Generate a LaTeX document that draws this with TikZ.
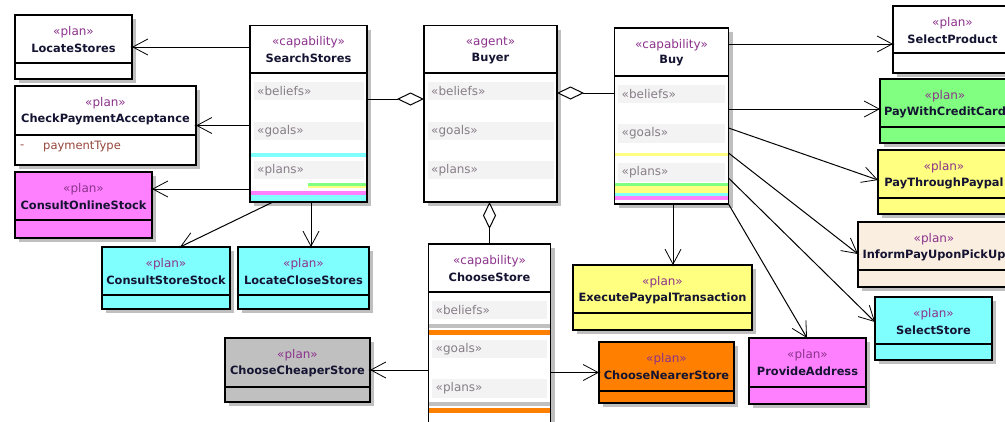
\documentclass[tikz,border=0pt]{standalone}
\usepackage{fontspec}
\setmainfont{DejaVu Sans}
\usetikzlibrary{arrows.meta,calc,shadows,decorations.markings}

\definecolor{umlcyan}{RGB}{128,255,255}
\definecolor{umlgreen}{RGB}{128,255,128}
\definecolor{umlyellow}{RGB}{255,255,128}
\definecolor{umlpink}{RGB}{255,128,255}
\definecolor{umlorange}{RGB}{255,128,0}
\definecolor{umlgray}{RGB}{192,192,192}
\definecolor{umlbeige}{RGB}{250,238,224}
\definecolor{stereoc}{RGB}{140,50,140}
\definecolor{titlec}{RGB}{20,20,50}
\definecolor{lblc}{RGB}{135,125,135}
\definecolor{lblbg}{RGB}{243,243,243}
\definecolor{attrc}{RGB}{150,70,60}

\tikzset{
  umlbox/.style={rectangle, draw=black, line width=1.2pt, inner sep=0pt, outer sep=0pt,
    anchor=north west,
    drop shadow={shadow xshift=4pt, shadow yshift=-4pt, fill=black!25, opacity=1}},
  boxline/.style={draw=black, line width=1.2pt},
  stereo/.style={inner sep=0pt, text=stereoc, font=\fontsize{12}{14}\selectfont},
  umltitle/.style={inner sep=0pt, text=titlec, font=\bfseries\fontsize{11.4}{13}\selectfont},
  lbl/.style={inner sep=0pt, anchor=west, text=lblc, font=\fontsize{12}{14}\selectfont},
  attr/.style={inner sep=0pt, anchor=west, text=attrc, font=\fontsize{11.5}{13}\selectfont},
  assoc/.style={line width=1pt, -{Straight Barb[length=15pt,width=16pt,line width=0.8pt]},
    postaction={decorate},
    decoration={markings, mark=at position 1 with {\fill (0,0) circle (1.4pt);}}},
  aggr/.style={line width=1pt, -{Diamond[length=27pt,width=13pt,fill=white,line width=1pt]}}
}

% plan box: name, x, y, width, header height, total height, fill, title
\newcommand\PlanBox[8]{%
  \node[umlbox, fill=#7, minimum width=#4pt, minimum height=#6pt] (#1) at (#2,#3) {};
  \draw[boxline] ($(#1.north west)+(0,#5)$) -- ($(#1.north east)+(0,#5)$);
  \node[stereo] at ($(#1.north)+(0,17)$) {«plan»};
  \node[umltitle] at ($(#1.north)+(0,33)$) {#8};
}
% capability / agent box: name, x, y, width, total height, header height, stereotype, title
\newcommand\CapBox[8]{%
  \node[umlbox, fill=white, minimum width=#4pt, minimum height=#5pt] (#1) at (#2,#3) {};
  \draw[boxline] ($(#1.north west)+(0,#6)$) -- ($(#1.north east)+(0,#6)$);
  \node[stereo] at ($(#1.north)+(0,17)$) {#7};
  \node[umltitle] at ($(#1.north)+(0,33)$) {#8};
}
% compartment label: box, offset from top, height, text
\newcommand\CapLabel[4]{%
  \fill[lblbg] ($(#1.north west)+(3.5,#2)$) rectangle ($(#1.north east)+(-3.5,{#2+#3})$);
  \node[lbl] at ($(#1.north west)+(7,{#2+#3/2})$) {#4};
}
% coloured stripe: box, offset from left, offset from top, height, colour
\newcommand\CapStripe[5]{%
  \fill[#5] ($(#1.north west)+(#2,#3)$) rectangle ($(#1.north east)+(0,{#3+#4})$);
}
\newcommand\CapFrame[1]{%
  \draw[boxline] (#1.north west) rectangle (#1.south east);
}

\begin{document}
\begin{tikzpicture}[x=1pt,y=-1pt]
\useasboundingbox (0,0) rectangle (1005,421);
\fill[white] (0,0) rectangle (1005,421);

% plans
\PlanBox{ls}{15}{15}{117}{48}{64}{white}{LocateStores}
\PlanBox{cpa}{15}{86}{181}{49}{79}{white}{CheckPaymentAcceptance}
\node[attr] at ($(cpa.north west)+(5,61)$) {-};
\node[attr] at ($(cpa.north west)+(28,61)$) {paymentType};
\PlanBox{cos}{15}{172}{137}{48}{66}{umlpink}{ConsultOnlineStock}
\PlanBox{css}{102}{247}{128}{48}{62}{umlcyan}{ConsultStoreStock}
\PlanBox{lcs}{238}{247}{131}{48}{62}{umlcyan}{LocateCloseStores}
\PlanBox{ccs}{225}{338}{145}{49}{64}{umlgray}{ChooseCheaperStore}
\PlanBox{cns}{599}{342}{135}{49}{61}{umlorange}{ChooseNearerStore}
\PlanBox{ept}{573}{265}{179}{48}{65}{umlyellow}{ExecutePaypalTransaction}
\PlanBox{pa}{749}{338}{117}{49}{66}{umlpink}{ProvideAddress}
\PlanBox{sst}{875}{297}{117}{47}{63}{umlcyan}{SelectStore}
\PlanBox{ipu}{858}{222}{152}{48}{65}{umlbeige}{InformPayUponPickUp}
\PlanBox{ptp}{878}{150}{132}{48}{64}{umlyellow}{PayThroughPaypal}
\PlanBox{pwcc}{880}{79}{130}{48}{64}{umlgreen}{PayWithCreditCard}
\PlanBox{sp}{893}{6}{119}{47}{67}{white}{SelectProduct}

% capability Search Stores
\CapBox{ss}{250}{25.5}{117}{176.5}{47.5}{«capability»}{SearchStores}
\CapLabel{ss}{56.5}{18}{«beliefs»}
\CapLabel{ss}{96.5}{17.5}{«goals»}
\CapStripe{ss}{0}{127.5}{4}{umlcyan}
\CapLabel{ss}{135.5}{18}{«plans»}
\CapStripe{ss}{58}{157.5}{2.5}{umlgreen}
\CapStripe{ss}{58}{160}{2.5}{umlyellow}
\CapStripe{ss}{0}{165.5}{4}{umlpink}
\CapStripe{ss}{0}{169.5}{7}{umlcyan}
\CapFrame{ss}

% agent Buyer
\CapBox{buyer}{424}{25.5}{133}{176.5}{47.5}{«agent»}{Buyer}
\CapLabel{buyer}{56.5}{18}{«beliefs»}
\CapLabel{buyer}{96.5}{17.5}{«goals»}
\CapLabel{buyer}{135.5}{18}{«plans»}
\CapFrame{buyer}

% capability Buy
\CapBox{buy}{614.5}{28}{114}{176}{48}{«capability»}{Buy}
\CapLabel{buy}{57}{18}{«beliefs»}
\CapLabel{buy}{96}{18.5}{«goals»}
\CapStripe{buy}{0}{125}{3}{umlyellow}
\CapLabel{buy}{135}{19}{«plans»}
\CapStripe{buy}{0}{155}{3}{umlgreen}
\CapStripe{buy}{0}{158}{7}{umlyellow}
\CapStripe{buy}{0}{165}{3}{umlcyan}
\CapStripe{buy}{0}{168}{4}{umlpink}
\CapFrame{buy}

% capability Choose Store
\CapBox{cs}{428.5}{244}{122}{190}{48}{«capability»}{ChooseStore}
\CapLabel{cs}{57}{17.5}{«beliefs»}
\CapStripe{cs}{0}{79.5}{4.5}{umlgray}
\CapStripe{cs}{0}{85.5}{5}{umlorange}
\CapLabel{cs}{96}{18}{«goals»}
\CapLabel{cs}{135}{18.5}{«plans»}
\CapStripe{cs}{0}{158}{4}{umlgray}
\CapStripe{cs}{0}{163.5}{5}{umlorange}
\CapFrame{cs}

% Search Stores uses
\draw[assoc] (ls.east -| ss.west) -- (ls.east);
\draw[assoc] (cpa.east -| ss.west) -- (cpa.east);
\coordinate (cosin) at ($(cos.north east)+(0,17)$);
\draw[assoc] (cosin -| ss.west) -- (cosin);
\draw[assoc] ($(ss.south west)+(23,0)$) -- ($(css.north west)+(78,0)$);
\coordinate (lcsin) at ($(lcs.north west)+(73,0)$);
\draw[assoc] (lcsin |- ss.south) -- (lcsin);

% Buyer aggregates its capabilities
\coordinate (buyerL) at ($(buyer.north west)+(0,73.5)$);
\draw[aggr] (buyerL -| ss.east) -- (buyerL);
\coordinate (buyerR) at ($(buyer.north east)+(0,67.5)$);
\draw[aggr] (buyerR -| buy.west) -- (buyerR);
\draw[aggr] (cs.north) -- (cs.north |- buyer.south);

% Choose Store uses
\draw[assoc] (ccs.east -| cs.west) -- (ccs.east);
\draw[assoc] (cns.west -| cs.east) -- (cns.west);

% Buy uses
\coordinate (spin) at ($(sp.north west)+(0,38)$);
\draw[assoc] (spin -| buy.east) -- (spin);
\coordinate (pwccin) at ($(pwcc.north west)+(0,30)$);
\draw[assoc] (pwccin -| buy.east) -- (pwccin);
\draw[assoc] ($(buy.north east)+(0,100)$) -- ($(ptp.north west)+(0,30)$);
\draw[assoc] ($(buy.north east)+(0,125)$) -- ($(ipu.north west)+(0,32)$);
\draw[assoc] ($(buy.north east)+(0,150)$) -- ($(sst.north west)+(0,25)$);
\draw[assoc] (buy.south east) -- ($(pa.north west)+(58,0)$);
\coordinate (eptin) at ($(ept.north west)+(100,0)$);
\draw[assoc] (eptin |- buy.south) -- (eptin);
\end{tikzpicture}
\end{document}
